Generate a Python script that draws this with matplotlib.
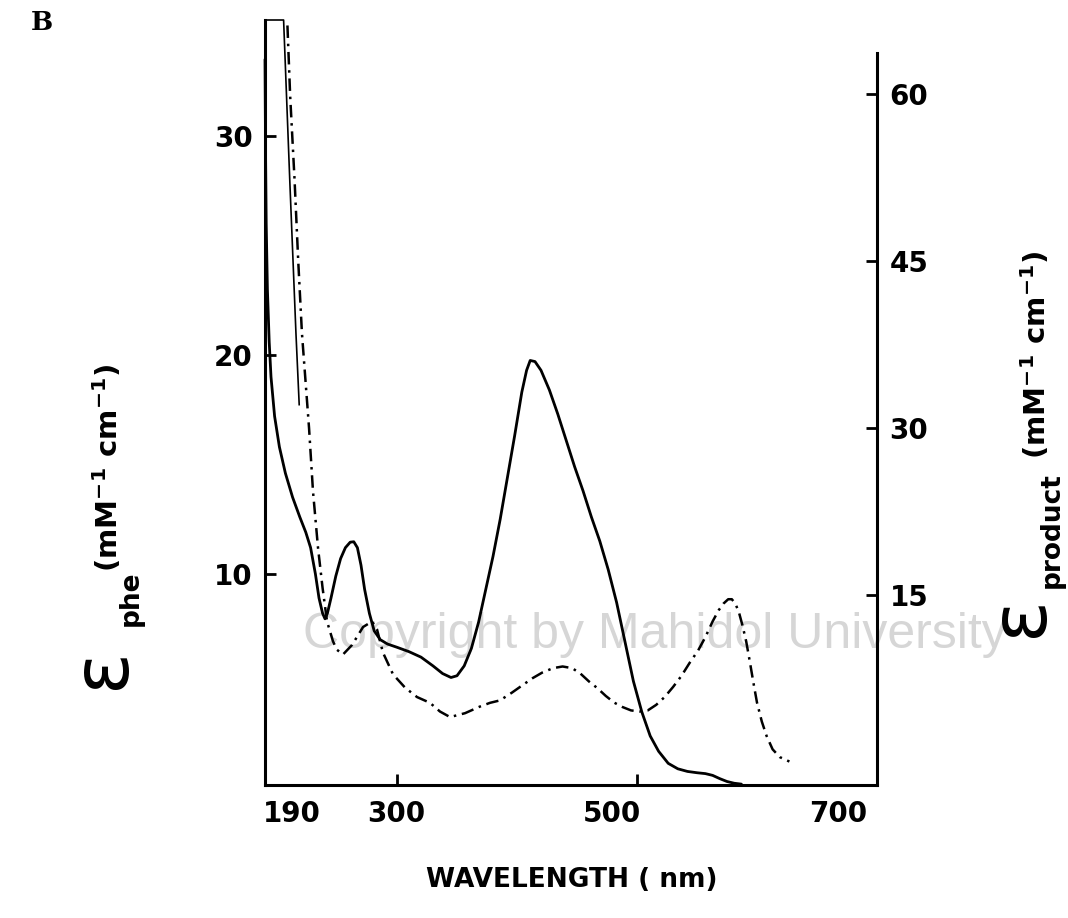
import matplotlib
matplotlib.use("Agg")
import matplotlib.pyplot as plt

plt.rcParams['font.family'] = ['DejaVu Sans']
plt.rcParams['font.weight'] = 'bold'
plt.rcParams['mathtext.fontset'] = 'custom'
plt.rcParams['mathtext.rm'] = 'DejaVu Sans:bold'
plt.rcParams['mathtext.it'] = 'DejaVu Sans:bold'
plt.rcParams['mathtext.bf'] = 'DejaVu Sans:bold'

# ---- data ----
wl_phe = [190, 190.5, 191, 192, 193.5, 195, 198, 202, 207, 213, 219, 224, 228, 232, 235,
          238, 240, 242, 245, 249, 253, 257, 261, 264, 267, 270, 273, 277, 281, 286, 292,
          300, 310, 320, 330, 338, 345, 350, 356, 362, 368, 374, 380, 386, 392, 398, 404,
          408, 411, 415, 420, 427, 434, 441, 448, 455, 462, 469, 476, 483, 490, 497, 504,
          511, 518, 526, 534, 542, 550, 557, 563, 569, 575, 581, 587]
eps_phe = [33.5, 29.0, 26.0, 23.0, 20.6, 19.0, 17.2, 15.8, 14.6, 13.5, 12.6, 11.9, 11.2, 10.0, 8.9,
           8.2, 7.95, 8.2, 8.9, 9.9, 10.7, 11.2, 11.45, 11.47, 11.2, 10.4, 9.3, 8.2, 7.4, 7.0, 6.8,
           6.65, 6.45, 6.2, 5.8, 5.45, 5.27, 5.35, 5.8, 6.6, 7.8, 9.3, 10.8, 12.5, 14.4, 16.3, 18.3,
           19.3, 19.75, 19.7, 19.3, 18.4, 17.3, 16.1, 14.9, 13.8, 12.6, 11.5, 10.2, 8.7, 6.9, 5.1, 3.7,
           2.6, 1.9, 1.35, 1.1, 0.98, 0.92, 0.88, 0.8, 0.65, 0.52, 0.44, 0.4]

wl_prod = [207, 208.3, 211, 214.6, 217.7, 220.8, 226.7, 230, 234.2, 238, 241.7, 246.7, 250, 255,
           262.5, 271.7, 279.2, 283.3, 288.3, 296.7, 306.7, 316.7, 327.5, 335.8, 344.2, 356.7,
           369, 377.5, 385.8, 395.8, 405, 413, 421, 430, 438, 446, 453, 460, 467, 474, 481, 488,
           495, 502, 509, 516, 523, 530, 537, 544, 551, 557, 563, 568, 572, 576, 579, 582, 585,
           588, 591, 594, 597, 600, 604, 608, 613, 619, 627]
eps_prod = [70.0, 67.3, 59.8, 52.4, 45.0, 38.5, 30.0, 24.3, 19.2, 15.6, 12.6, 10.8, 10.05, 9.63,
            10.48, 12.1, 12.6, 11.9, 9.8, 7.84, 6.65, 5.8, 5.28, 4.5, 4.0, 4.35,
            4.94, 5.28, 5.5, 6.2, 6.9, 7.5, 8.0, 8.4, 8.55, 8.4, 7.9, 7.2, 6.6, 5.9, 5.3, 4.9,
            4.6, 4.5, 4.6, 5.1, 5.8, 6.7, 7.7, 8.9, 10.0, 11.2, 12.6, 13.6, 14.2, 14.6, 14.6, 14.2, 13.4,
            12.2, 10.8, 9.0, 7.1, 5.3, 3.6, 2.3, 1.1, 0.4, 0.0]

wl_trace = [190, 205.5, 210.6, 215.8, 218.5]
eps_trace = [66.7, 66.7, 52.4, 38.5, 32.1]

x_tick_marks = [300, 500]
x_label_pos = [212.5, 299, 479, 668]
x_labels = ['190', '300', '500', '700']
left_ticks = [10, 20, 30]
right_ticks = [15, 30, 45, 60]

# ---- figure ----
W, H = 1068, 918
fig = plt.figure(figsize=(W / 100, H / 100), dpi=100)
ax = fig.add_axes([265 / W, 1 - 785 / H, (877 - 265) / W, (785 - 20) / H])
ax.set_facecolor('none')
ax.set_xlim(190, 700)
ax.set_ylim(0.36, 35.3)
ax2 = ax.twinx()
ax2.set_ylim(-2.11, 66.7)

# watermark
fig.text(655 / W, 1 - 648 / H, 'Copyright by Mahidol University', fontsize=36,
         fontweight='normal', color='#d6d6d6', ha='center', va='baseline', zorder=-5,
         family='Liberation Sans')

ax.plot(wl_phe, eps_phe, color='black', lw=2.0, solid_capstyle='round', clip_on=False)
ax2.plot(wl_prod, eps_prod, color='black', lw=1.8, dashes=(5, 2.3, 1, 2.3))
ax2.plot(wl_trace, eps_trace, color='black', lw=1.2, clip_on=False)

for a in (ax, ax2):
    a.spines['top'].set_visible(False)
ax.spines['right'].set_visible(False)
ax2.spines['left'].set_visible(False)
ax2.spines['bottom'].set_visible(False)
ax.spines['left'].set_linewidth(2.2)
ax.spines['bottom'].set_linewidth(2.2)
ax2.spines['right'].set_linewidth(2.2)
ax2.spines['right'].set_bounds(-2.11, 63.7)

ax.set_xticks(x_tick_marks)
ax.set_xticklabels([])
ax.set_xticks(x_label_pos, labels=x_labels, minor=True)
ax.tick_params(axis='x', which='major', direction='in', length=8, width=2)
ax.tick_params(axis='x', which='minor', length=0, pad=11, labelsize=20)

ax.set_yticks(left_ticks)
ax.tick_params(axis='y', direction='in', length=8, width=2, pad=9, labelsize=20)
ax2.set_yticks(right_ticks)
ax2.tick_params(axis='y', direction='in', length=8, width=2, pad=9, labelsize=20)

# axis labels
fig.text(572 / W, 1 - 880 / H, 'WAVELENGTH ( nm)', fontsize=19, ha='center', va='center')

def ylabel(xe, ye, xs, ys, xu, yu, sub):
    fig.text(xe / W, 1 - ye / H, 'ε', fontsize=56, rotation=90, ha='center', va='center',
             family='DejaVu Sans', fontweight='normal')
    fig.text(xs / W, 1 - ys / H, sub, fontsize=19, rotation=90, ha='center', va='center')
    fig.text(xu / W, 1 - yu / H, r'(mM$^{-1}$ cm$^{-1}$)', fontsize=21, rotation=90,
             ha='center', va='center')

ylabel(102, 668, 131, 598, 108, 468, 'phe')
ylabel(1020, 616, 1052, 530, 1036, 355, 'product')

fig.text(42 / W, 1 - 22 / H, 'B', fontsize=19, family='DejaVu Serif', fontweight='bold',
         ha='center', va='center')

fig.savefig('out.png', dpi=100)
